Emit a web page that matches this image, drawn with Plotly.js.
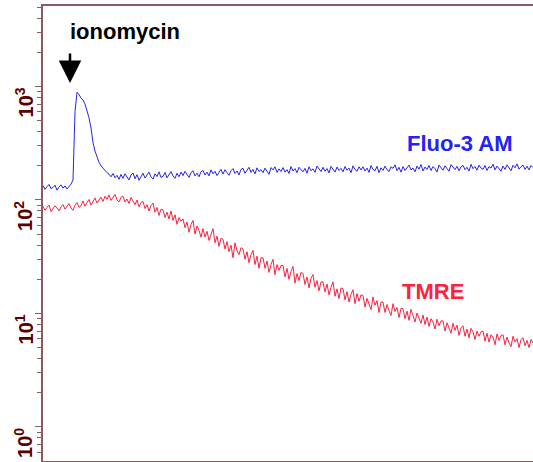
<!DOCTYPE html>
<html>
<head>
<meta charset="utf-8">
<script src="https://cdn.plot.ly/plotly-3.0.1.min.js"></script>
<style>html,body{margin:0;padding:0;background:#fff}#chart{width:533px;height:462px}</style>
</head>
<body>
<div id="chart"></div>
<script>
// sampling interval (arbitrary time units)
const dt = 2;

// Fluo-3 AM trace (fluorescence, a.u.)
const fluo = [
  134, 124, 131, 137, 126, 129, 135, 122, 130, 136,
  127, 133, 125, 131, 138, 150, 600, 890, 850, 790,
  760, 700, 620, 530, 430, 320, 270, 240, 215, 200,
  191, 180, 174, 169, 160, 171, 157, 165, 152, 168,
  155, 170, 158, 150, 166, 173, 154, 167, 149, 163,
  172, 156, 167, 176, 159, 153, 170, 161, 177, 158,
  162, 175, 157, 169, 178, 163, 155, 172, 160, 176,
  164, 179, 167, 158, 174, 181, 163, 172, 160, 177,
  182, 166, 176, 163, 184, 170, 179, 164, 175, 186,
  169, 185, 174, 165, 181, 189, 171, 180, 166, 186,
  190, 172, 183, 194, 175, 186, 170, 192, 178, 185,
  174, 191, 179, 168, 193, 184, 196, 175, 188, 178,
  193, 176, 185, 171, 197, 180, 189, 174, 194, 183,
  177, 190, 172, 196, 181, 188, 175, 199, 186, 178,
  194, 179, 189, 173, 198, 184, 176, 195, 182, 190,
  177, 197, 183, 191, 174, 200, 186, 179, 196, 184,
  196, 180, 191, 175, 201, 186, 181, 198, 174, 192,
  182, 199, 185, 178, 196, 190, 204, 181, 194, 176,
  197, 182, 193, 203, 184, 191, 177, 199, 187, 205,
  180, 195, 186, 201, 182, 197, 189, 176, 203, 191,
  183, 200, 188, 179, 205, 193, 185, 198, 181, 196,
  202, 185, 194, 180, 206, 189, 197, 183, 203, 191,
  186, 201, 182, 197, 191, 207, 184, 199, 188, 179,
  199, 186, 204, 190, 181, 202, 192, 208, 187, 196,
  203, 186, 198, 184, 201, 193
];

// TMRE trace (fluorescence, a.u.)
const tmre = [
  88, 81, 86, 90, 79, 84, 89, 85, 80, 87,
  91, 83, 87, 93, 85, 81, 90, 95, 86, 89,
  98, 88, 95, 101, 90, 97, 104, 94, 99, 106,
  97, 108, 101, 111, 99, 105, 112, 100, 96, 106,
  108, 96, 102, 93, 105, 98, 91, 100, 87, 95,
  97, 84, 91, 80, 89, 94, 78, 86, 73, 83,
  82, 70, 78, 68, 80, 66, 74, 61, 70, 65,
  68, 57, 64, 52, 61, 66, 50, 59, 54, 47,
  56, 47, 53, 44, 50, 56, 42, 48, 39, 46,
  45, 37, 43, 35, 40, 31, 42, 36, 33, 38,
  37, 30, 35, 28, 33, 36, 27, 32, 25, 31,
  31, 25, 29, 23, 27, 30, 22, 27, 24, 26.5,
  26.5, 21, 25, 20, 23.5, 26, 18.5, 22.5, 19.5, 23,
  22.5, 18, 21, 16.8, 20.5, 22, 17, 19.5, 15.8, 19,
  19, 15.5, 18.2, 14.6, 17, 19, 14.2, 16.5, 13.5, 16.8,
  16.5, 13.2, 15.6, 12.6, 14.8, 16.2, 12.2, 15, 12.8, 14.6,
  14.4, 11.4, 13.6, 12, 10.8, 14, 11.8, 13, 10.2, 12.6,
  12.6, 10.2, 12, 10.6, 9.6, 12.2, 10.4, 11.3, 9.2, 11.1,
  11, 9.0, 10.5, 8.7, 10.9, 9.6, 8.4, 10.1, 9.2, 8.2,
  9.7, 8.0, 9.3, 7.7, 9.0, 8.4, 7.3, 8.9, 7.8, 8.6,
  8.6, 7.0, 8.3, 7.3, 6.7, 8.2, 7.1, 7.9, 6.4, 7.5,
  7.8, 6.3, 7.3, 6.1, 7.4, 6.9, 5.9, 7.0, 6.3, 6.9,
  7.0, 5.7, 6.7, 5.6, 6.5, 6.2, 5.3, 6.6, 5.8, 6.4,
  6.5, 5.3, 6.2, 5.5, 5.1, 6.3, 5.6, 6.0, 5.0, 5.9,
  6.1, 5.2, 5.8, 5.0, 5.9, 5.5
];

const yTickExps = [0, 1, 2, 3];
const seriesNames = ['Fluo-3 AM', 'TMRE'];
const stimulusLabel = 'ionomycin';
const stimulusTime = 27;
const stimulusLevel = 1075;

const tF = fluo.map((_, i) => i * dt);
const tT = tmre.map((_, i) => i * dt);

const axisColor = '#8c5a60';
const labelColor = '#5a0000';
const blue = '#2323f5';
const red = '#ff2040';
const font = 'Liberation Sans, Arial, sans-serif';

const traces = [
  {x: tF, y: fluo, type: 'scatter', mode: 'lines', line: {color: blue, width: 1}, name: seriesNames[0]},
  {x: tT, y: tmre, type: 'scatter', mode: 'lines', line: {color: red, width: 1}, name: seriesNames[1]}
];

const annotations = yTickExps.map(e => ({
  xref: 'paper', yref: 'y', x: 0, y: e,
  text: '<b>10<sup>' + e + '</sup></b>', showarrow: false, textangle: -90,
  xanchor: 'center', yanchor: 'middle', xshift: -19, yshift: -16,
  font: {family: font, size: 20, color: labelColor}
}));

annotations.push({
  x: 472, y: 2.502, xref: 'x', yref: 'y',
  text: '<b>' + seriesNames[0] + '</b>', showarrow: false, xanchor: 'right', yanchor: 'middle',
  font: {family: font, size: 22, color: blue}
});
annotations.push({
  x: 357, y: 1.198, xref: 'x', yref: 'y',
  text: '<b>' + seriesNames[1] + '</b>', showarrow: false, xanchor: 'left', yanchor: 'middle',
  font: {family: font, size: 22, color: red}
});
annotations.push({
  x: stimulusTime, y: Math.log10(stimulusLevel), xref: 'x', yref: 'y',
  text: '', showarrow: true, arrowhead: 2, arrowsize: 1.8, arrowwidth: 2.5, arrowcolor: '#000',
  ax: 0, ay: -31, standoff: 0
});
annotations.push({
  x: 25, y: 3.48, xref: 'x', yref: 'y',
  text: '<b>' + stimulusLabel + '</b>', showarrow: false, xanchor: 'left', yanchor: 'middle',
  font: {family: font, size: 22, color: '#000'}
});

const layout = {
  width: 533, height: 462,
  margin: {l: 43, r: 0, t: 6, b: 1, pad: 0},
  paper_bgcolor: '#fff', plot_bgcolor: '#fff',
  showlegend: false,
  xaxis: {
    range: [0, 490], showgrid: false, zeroline: false, showticklabels: false, ticks: '',
    showline: true, mirror: true, linecolor: axisColor, linewidth: 2
  },
  yaxis: {
    type: 'log', range: [-0.2996, 3.709], showgrid: false, zeroline: false,
    tickmode: 'array', tickvals: yTickExps.map(e => Math.pow(10, e)), showticklabels: false,
    ticks: 'outside', ticklen: 6, tickwidth: 1, tickcolor: axisColor,
    minor: {ticks: 'outside', ticklen: 4, tickwidth: 1, tickcolor: axisColor, dtick: 'D1', showgrid: false},
    showline: true, linecolor: axisColor, linewidth: 2
  },
  annotations: annotations
};

Plotly.newPlot('chart', traces, layout, {staticPlot: true, displayModeBar: false});
</script>
</body>
</html>
